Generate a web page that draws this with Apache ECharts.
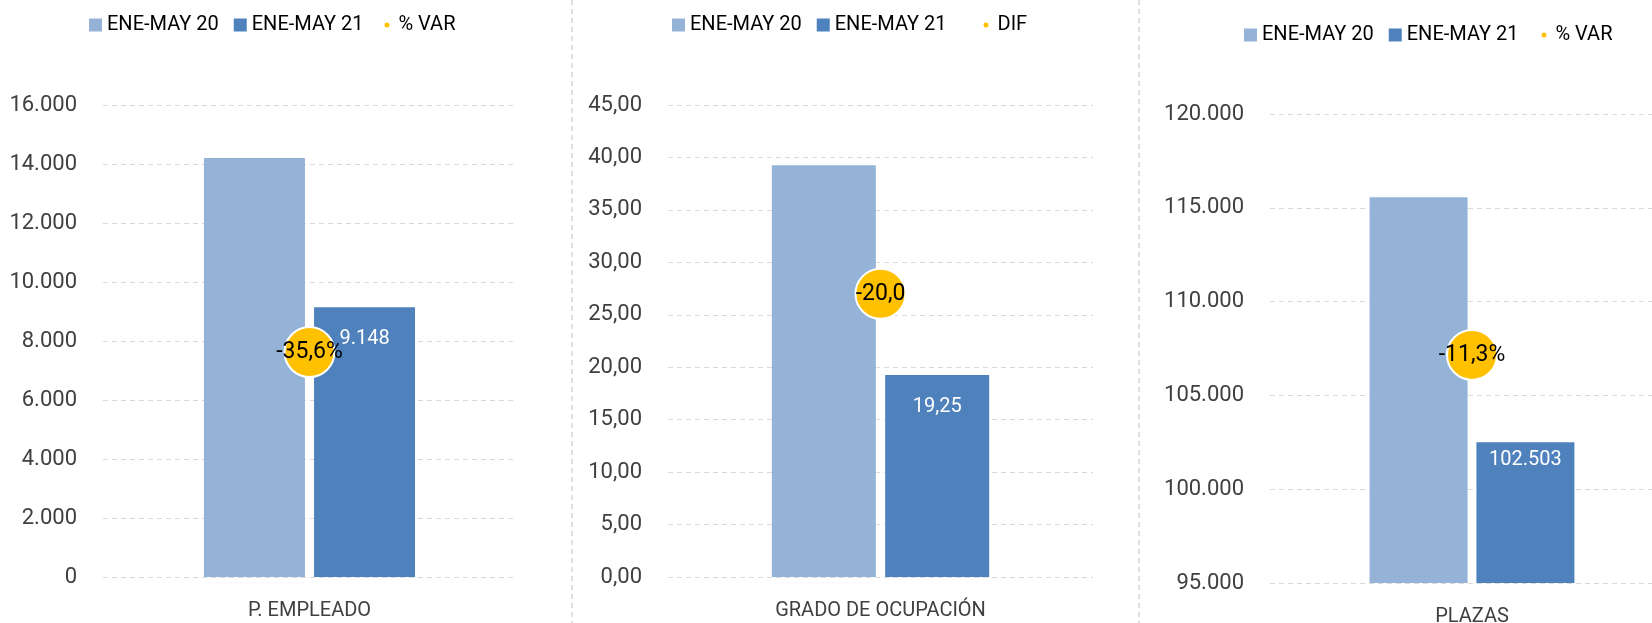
<!DOCTYPE html>
<html>
<head>
<meta charset="utf-8">
<script src="https://cdn.jsdelivr.net/npm/echarts@6/dist/echarts.min.js"></script>
<style>
  html, body { margin: 0; padding: 0; background: #fff; }
  #main { width: 1652px; height: 623px; }
</style>
</head>
<body>
<div id="main"></div>
<script>
// datos
const categories = ['P. EMPLEADO', 'GRADO DE OCUPACIÓN', 'PLAZAS'];
const ene20 = [14205, 39.25, 115560];
const ene21 = [9148, 19.25, 102503];
const variation = [-35.6, -20.0, -11.3];
const varNames = ['% VAR', 'DIF', '% VAR'];
const varSuffix = ['%', '', '%'];
const decimals = [0, 2, 0];
const yMin = [0, 0, 95000];
const yMax = [16000, 45, 120000];
const yStep = [2000, 5, 5000];

const FONT = 'Roboto';
const C20 = '#95B3D7';
const C21 = '#4F81BD';
const CVAR = '#FFC000';

function fmt(v, dec) {
  let s = Number(v).toFixed(dec);
  let parts = s.split('.');
  parts[0] = parts[0].replace(/\B(?=(\d{3})+(?!\d))/g, '.');
  return parts.join(',');
}

// layout of the three panels (the third one runs past the right edge)
const grids = [
  {left: 103, width: 413, top: 105, bottom: 46, outerBoundsMode: 'none'},
  {left: 668, width: 425, top: 105, bottom: 46, outerBoundsMode: 'none'},
  {left: 1270, width: 404, top: 114, bottom: 40, outerBoundsMode: 'none'}
];
const varAxisMin = [-68, -50, -22];
const barW = [101, 104, 98];
const labelDist = [22, 22, 8];
const legendPos = [
  {bars: 84, dot: 377.5, top: 10},
  {bars: 667, dot: 976.5, top: 10},
  {bars: 1239, dot: 1534.5, top: 20}
];

let xAxis = [], yAxis = [], series = [], legend = [];

for (let i = 0; i < 3; i++) {
  xAxis.push({
    type: 'category',
    gridIndex: i,
    data: [categories[i]],
    axisLine: {show: false},
    axisTick: {show: false},
    axisLabel: {color: '#404040', fontSize: 20, fontFamily: FONT, margin: 24}
  });
  yAxis.push({
    type: 'value',
    gridIndex: i,
    min: yMin[i],
    max: yMax[i],
    interval: yStep[i],
    axisLine: {show: false},
    axisTick: {show: false},
    axisLabel: {
      color: '#404040', fontSize: 22, fontFamily: FONT, margin: 26,
      formatter: (function (d) { return function (v) { return fmt(v, d); }; })(decimals[i])
    },
    splitLine: {lineStyle: {color: '#D9D9D9', type: [5, 4], width: 1}}
  });
  yAxis.push({
    type: 'value',
    gridIndex: i,
    min: varAxisMin[i],
    max: 0,
    show: false,
    splitLine: {show: false}
  });
  series.push({
    name: 'ENE-MAY 20',
    type: 'bar',
    xAxisIndex: i,
    yAxisIndex: i * 2,
    data: [ene20[i]],
    barWidth: barW[i],
    barGap: '9%',
    itemStyle: {color: C20}
  });
  series.push({
    name: 'ENE-MAY 21',
    type: 'bar',
    xAxisIndex: i,
    yAxisIndex: i * 2,
    data: [ene21[i]],
    barWidth: barW[i],
    barGap: '9%',
    itemStyle: {color: C21},
    label: {
      show: true,
      position: 'insideTop',
      distance: labelDist[i],
      color: '#fff',
      fontSize: 20,
      fontFamily: FONT,
      formatter: (function (d) { return function (p) { return fmt(p.value, d); }; })(decimals[i])
    }
  });
  series.push({
    name: varNames[i],
    type: 'scatter',
    xAxisIndex: i,
    yAxisIndex: i * 2 + 1,
    data: [variation[i]],
    symbolSize: 50,
    z: 5,
    itemStyle: {color: CVAR, borderColor: '#fff', borderWidth: 2, opacity: 1},
    label: {
      show: true,
      position: 'inside',
      color: '#000',
      fontSize: 23,
      fontFamily: FONT,
      formatter: (function (k) { return function (p) { return fmt(p.value, 1) + varSuffix[k]; }; })(i)
    }
  });
  legend.push({
    left: legendPos[i].bars,
    top: legendPos[i].top,
    data: ['ENE-MAY 20', 'ENE-MAY 21'],
    icon: 'rect',
    itemWidth: 13,
    itemHeight: 13,
    itemGap: 15,
    selectedMode: false,
    textStyle: {color: '#000', fontSize: 20, fontFamily: FONT}
  });
  legend.push({
    left: legendPos[i].dot,
    top: legendPos[i].top,
    data: [varNames[i]],
    icon: 'circle',
    itemWidth: 13,
    itemHeight: 7,
    selectedMode: false,
    textStyle: {color: '#000', fontSize: 20, fontFamily: FONT}
  });
}

const chart = echarts.init(document.getElementById('main'));
chart.setOption({
  backgroundColor: '#fff',
  animation: false,
  grid: grids,
  xAxis: xAxis,
  yAxis: yAxis,
  legend: legend,
  series: series,
  graphic: [
    {type: 'line', shape: {x1: 572, y1: 0, x2: 572, y2: 623}, style: {stroke: '#BFBFBF', lineWidth: 1, lineDash: [5, 4]}},
    {type: 'line', shape: {x1: 1139, y1: 0, x2: 1139, y2: 623}, style: {stroke: '#BFBFBF', lineWidth: 1, lineDash: [5, 4]}}
  ]
});
</script>
</body>
</html>
